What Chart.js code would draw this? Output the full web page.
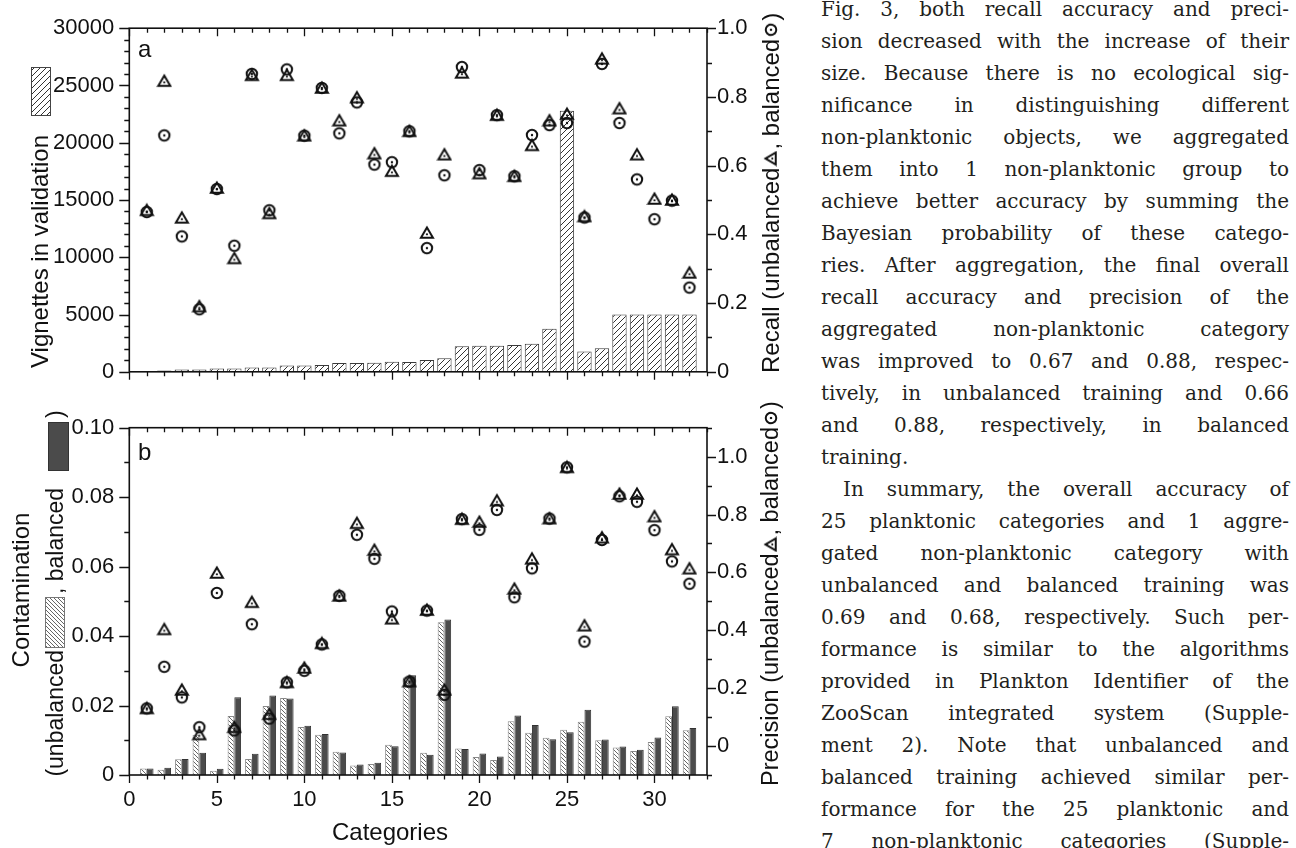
<!DOCTYPE html>
<html>
<head>
<meta charset="utf-8">
<script src="https://cdn.jsdelivr.net/npm/chart.js@4.4.0/dist/chart.umd.min.js"></script>
<style>
html, body { margin: 0; padding: 0; background: #fff; width: 1296px; height: 848px; overflow: hidden; position: relative; }
#ca { position: absolute; left: 0; top: 0; }
#cb { position: absolute; left: 0; top: 380px; }
#txt { position: absolute; left: 821px; top: -7px; width: 468px; font-family: "DejaVu Serif", serif; font-size: 20px; line-height: 32px; color: #231f20; }
#txt div { white-space: nowrap; text-align: justify; text-align-last: justify; }
#txt div.end { text-align-last: left; }
#txt div.ind { padding-left: 22px; }
</style>
</head>
<body>
<canvas id="ca" width="800" height="400"></canvas>
<canvas id="cb" width="800" height="468"></canvas>
<div id="txt">
<div>Fig. 3, both recall accuracy and preci-</div>
<div>sion decreased with the increase of their</div>
<div>size. Because there is no ecological sig-</div>
<div>nificance in distinguishing different</div>
<div>non-planktonic objects, we aggregated</div>
<div>them into 1 non-planktonic group to</div>
<div>achieve better accuracy by summing the</div>
<div>Bayesian probability of these catego-</div>
<div>ries. After aggregation, the final overall</div>
<div>recall accuracy and precision of the</div>
<div>aggregated non-planktonic category</div>
<div>was improved to 0.67 and 0.88, respec-</div>
<div>tively, in unbalanced training and 0.66</div>
<div>and 0.88, respectively, in balanced</div>
<div class="end">training.</div>
<div class="ind">In summary, the overall accuracy of</div>
<div>25 planktonic categories and 1 aggre-</div>
<div>gated non-planktonic category with</div>
<div>unbalanced and balanced training was</div>
<div>0.69 and 0.68, respectively. Such per-</div>
<div>formance is similar to the algorithms</div>
<div>provided in Plankton Identifier of the</div>
<div>ZooScan integrated system (Supple-</div>
<div>ment 2). Note that unbalanced and</div>
<div>balanced training achieved similar per-</div>
<div>formance for the 25 planktonic and</div>
<div>7 non-planktonic categories (Supple-</div>
</div>
<script>
// Fig. 3 a/b: vignettes, recall, contamination, precision per category
const categories = [1,2,3,4,5,6,7,8,9,10,11,12,13,14,15,16,17,18,19,20,21,22,23,24,25,26,27,28,29,30,31,32];
const vignettes = [80,110,200,200,285,285,370,370,540,540,600,770,770,800,880,850,1030,1190,2220,2280,2280,2340,2450,3750,22800,1770,2060,5000,5000,5000,5000,5000];
const recallUnbalanced = [0.47,0.846,0.448,0.19,0.535,0.33,0.863,0.461,0.863,0.687,0.826,0.731,0.798,0.635,0.584,0.70,0.404,0.632,0.870,0.577,0.747,0.569,0.659,0.731,0.75,0.452,0.911,0.766,0.632,0.503,0.50,0.288];
const recallBalanced = [0.465,0.688,0.394,0.182,0.532,0.367,0.867,0.47,0.88,0.687,0.826,0.694,0.784,0.603,0.61,0.70,0.36,0.572,0.887,0.587,0.747,0.569,0.689,0.718,0.724,0.449,0.896,0.724,0.56,0.444,0.498,0.245];
const contamUnbalanced = [0.0019,0.0015,0.0045,0.0116,0.0012,0.017,0.0046,0.0199,0.0222,0.0138,0.0116,0.0067,0.0027,0.0032,0.0087,0.0281,0.0064,0.044,0.0076,0.0052,0.0043,0.0155,0.0122,0.0107,0.013,0.0153,0.01,0.0079,0.0069,0.0095,0.0169,0.0129];
const contamBalanced = [0.0019,0.0021,0.0046,0.0064,0.0018,0.0224,0.0061,0.0229,0.022,0.0142,0.0118,0.0065,0.003,0.0035,0.0083,0.0287,0.0058,0.0448,0.0075,0.0062,0.0053,0.0171,0.0144,0.0103,0.0123,0.0188,0.0102,0.0082,0.0073,0.0108,0.0198,0.0135];
const precisionUnbalanced = [0.13,0.403,0.194,0.04,0.598,0.065,0.497,0.11,0.22,0.27,0.355,0.519,0.77,0.677,0.44,0.223,0.47,0.194,0.784,0.774,0.848,0.543,0.647,0.786,0.963,0.416,0.72,0.871,0.871,0.793,0.679,0.613];
const precisionBalanced = [0.13,0.274,0.168,0.065,0.529,0.054,0.421,0.095,0.22,0.26,0.351,0.519,0.73,0.647,0.465,0.223,0.468,0.177,0.784,0.747,0.816,0.514,0.614,0.786,0.963,0.361,0.712,0.863,0.844,0.746,0.638,0.561];
const xTicks = [0,5,10,15,20,25,30];
const vignetteTicks = [0,5000,10000,15000,20000,25000,30000];
const recallTicks = [0,0.2,0.4,0.6,0.8,1.0];
const contamTicks = [0,0.02,0.04,0.06,0.08,0.10];

const SANS = '"Liberation Sans", Arial, Helvetica, sans-serif';
const TICK_FONT = { family: SANS, size: 22 };
const TITLE_FONT = '24px ' + SANS;
const SMALL_TITLE = '23px ' + SANS;
const RIGHT_B_TITLE = '23.5px ' + SANS;
const INK = '#111';

function pts(values) {
    return categories.map((c, i) => ({ x: c, y: values[i] }));
}

function makeMarker(kind) {
    const c = document.createElement('canvas');
    c.width = 16; c.height = 16;
    const g = c.getContext('2d');
    g.strokeStyle = INK; g.fillStyle = INK; g.lineWidth = 2;
    if (kind === 'tri') {
        g.beginPath(); g.moveTo(8, 2.5); g.lineTo(14, 12.8); g.lineTo(2, 12.8); g.closePath(); g.stroke();
        g.beginPath(); g.arc(8, 9.3, 1.1, 0, Math.PI * 2); g.fill();
    } else {
        g.beginPath(); g.arc(8, 8, 5.2, 0, Math.PI * 2); g.stroke();
        g.beginPath(); g.arc(8, 8, 1.2, 0, Math.PI * 2); g.fill();
    }
    return c;
}
const triImg = makeMarker('tri');
const circImg = makeMarker('circ');

function hatch(ctx, dir, gap, color, lw) {
    const c = document.createElement('canvas');
    c.width = gap; c.height = gap;
    const g = c.getContext('2d');
    g.fillStyle = '#fff'; g.fillRect(0, 0, gap, gap);
    g.strokeStyle = color; g.lineWidth = lw;
    g.beginPath();
    if (dir === '/') {
        g.moveTo(0, gap); g.lineTo(gap, 0);
        g.moveTo(-1, 1); g.lineTo(1, -1);
        g.moveTo(gap - 1, gap + 1); g.lineTo(gap + 1, gap - 1);
    } else {
        g.moveTo(0, 0); g.lineTo(gap, gap);
        g.moveTo(gap - 1, -1); g.lineTo(gap + 1, 1);
        g.moveTo(-1, gap - 1); g.lineTo(1, gap + 1);
    }
    g.stroke();
    return ctx.createPattern(c, 'repeat');
}

// rotated (bottom-to-top) title made of text and marker pieces
function vtext(ctx, x, y, parts, font) {
    ctx.save();
    ctx.translate(x, y);
    ctx.rotate(-Math.PI / 2);
    ctx.font = font || TITLE_FONT; ctx.fillStyle = INK;
    ctx.textBaseline = 'middle'; ctx.textAlign = 'left';
    let p = 0;
    parts.forEach(s => {
        if (typeof s === 'string') {
            ctx.fillText(s, p, 0);
            p += ctx.measureText(s).width;
        } else {
            ctx.drawImage(s, p + 1, -s.height / 2 - 1);
            p += s.width + 2;
        }
    });
    ctx.restore();
}

function textWidth(ctx, s, font) {
    ctx.save(); ctx.font = font || TITLE_FONT;
    const w = ctx.measureText(s).width;
    ctx.restore();
    return w;
}

function range(from, to, step) {
    const out = [];
    for (let v = from; v <= to + step / 2; v += step) out.push(+v.toFixed(6));
    return out;
}

function axesPlugin(cfg) {
    return {
        id: 'axes',
        afterDraw(chart) {
            const ctx = chart.ctx, a = chart.chartArea;
            const sx = chart.scales.x, sl = chart.scales.y, sr = chart.scales.y2;
            ctx.save();
            ctx.strokeStyle = INK;
            ctx.lineWidth = 1.6;
            ctx.strokeRect(a.left, a.top, a.right - a.left, a.bottom - a.top);
            ctx.lineWidth = 1.3;
            ctx.beginPath();
            for (let v = 0; v <= 33; v++) {
                const px = Math.round(sx.getPixelForValue(v)) + 0.5;
                const len = v % 5 === 0 ? 8 : 4.5;
                ctx.moveTo(px, a.bottom); ctx.lineTo(px, a.bottom + len);
                ctx.moveTo(px, a.top); ctx.lineTo(px, a.top + len);
            }
            cfg.leftMinor.forEach(v => {
                const py = Math.round(sl.getPixelForValue(v)) + 0.5;
                ctx.moveTo(a.left, py); ctx.lineTo(a.left - (cfg.leftMajor(v) ? 10 : 5), py);
            });
            cfg.rightMinor.forEach(v => {
                const py = Math.round(sr.getPixelForValue(v)) + 0.5;
                ctx.moveTo(a.right, py); ctx.lineTo(a.right + (cfg.rightMajor(v) ? 9 : 5), py);
            });
            ctx.stroke();
            cfg.titles(ctx, chart);
            ctx.restore();
        }
    };
}

function isMult(v, step) {
    return Math.abs(v / step - Math.round(v / step)) < 1e-6;
}

function baseScales(opt) {
    return {
        x: {
            type: 'linear', min: 0, max: 33, offset: false,
            grid: { display: false, drawTicks: false }, border: { display: false },
            afterBuildTicks: s => { s.ticks = xTicks.map(v => ({ value: v })); },
            afterFit: s => { s.height = opt.xHeight; },
            ticks: { display: opt.xLabels, font: TICK_FONT, color: INK, padding: 12, maxRotation: 0, autoSkip: false, callback: v => String(v) }
        },
        y: {
            type: 'linear', position: 'left', min: opt.yMin, max: opt.yMax,
            grid: { display: false, drawTicks: false }, border: { display: false },
            afterBuildTicks: s => { s.ticks = opt.yTicks.map(v => ({ value: v })); },
            afterFit: s => { s.width = 129.3; },
            ticks: { font: TICK_FONT, color: INK, padding: 15, callback: opt.yFmt }
        },
        y2: {
            type: 'linear', position: 'right', min: opt.y2Min, max: opt.y2Max,
            grid: { display: false, drawTicks: false }, border: { display: false },
            afterBuildTicks: s => { s.ticks = recallTicks.map(v => ({ value: v })); },
            afterFit: s => { s.width = 93; },
            ticks: { font: TICK_FONT, color: INK, padding: 10, callback: v => v === 0 ? '0' : v.toFixed(1) }
        }
    };
}

function markerSet(tri, circ) {
    return [{
        type: 'scatter', data: pts(circ), yAxisID: 'y2', order: 1,
        pointStyle: circImg, pointRadius: 6, pointHoverRadius: 6
    }, {
        type: 'scatter', data: pts(tri), yAxisID: 'y2', order: 2,
        pointStyle: triImg, pointRadius: 6, pointHoverRadius: 6
    }];
}

const commonOpts = {
    responsive: false, animation: false, devicePixelRatio: 1,
    events: [],
    plugins: { legend: { display: false }, tooltip: { enabled: false } }
};

// ---- panel a ----
const ctxA = document.getElementById('ca').getContext('2d');
const hatchA = hatch(ctxA, '/', 6, '#333', 1);

new Chart(ctxA, {
    type: 'bar',
    data: {
        datasets: [
            ...markerSet(recallUnbalanced, recallBalanced),
            {
                type: 'bar', data: pts(vignettes), yAxisID: 'y', order: 3,
                backgroundColor: hatchA, borderColor: '#3a3a3a', borderWidth: 1,
                categoryPercentage: 0.82, barPercentage: 1.0
            }
        ]
    },
    options: {
        ...commonOpts,
        layout: { padding: { top: 25, left: 0, right: 0, bottom: 0 } },
        scales: baseScales({
            xHeight: 27.7, xLabels: false,
            yMin: 0, yMax: 30000, yTicks: vignetteTicks, yFmt: v => String(v),
            y2Min: 0, y2Max: 1
        })
    },
    plugins: [axesPlugin({
        leftMinor: range(0, 30000, 1000), leftMajor: v => isMult(v, 5000),
        rightMinor: range(0, 1, 0.1), rightMajor: v => isMult(v, 0.2),
        titles(ctx) {
            ctx.fillStyle = hatchA;
            ctx.fillRect(31, 67, 19, 48);
            ctx.strokeStyle = '#444'; ctx.lineWidth = 1;
            ctx.strokeRect(31.5, 67.5, 19, 48);
            vtext(ctx, 41, 368, ['Vignettes in validation']);
            vtext(ctx, 772, 373, ['Recall (unbalanced', triImg, ', balanced', circImg, ')']);
            ctx.font = '24px ' + SANS; ctx.fillStyle = INK;
            ctx.textBaseline = 'middle'; ctx.textAlign = 'left';
            ctx.fillText('a', 138, 50);
        }
    })]
});

// ---- panel b (canvas starts at page y 380) ----
const ctxB = document.getElementById('cb').getContext('2d');
const hatchB = hatch(ctxB, '\\', 4, '#555', 0.9);

new Chart(ctxB, {
    type: 'bar',
    data: {
        datasets: [
            ...markerSet(precisionUnbalanced, precisionBalanced),
            {
                type: 'bar', data: pts(contamUnbalanced), yAxisID: 'y', order: 3,
                backgroundColor: hatchB, borderColor: '#8a8a8a', borderWidth: 1,
                categoryPercentage: 0.77, barPercentage: 1.0
            },
            {
                type: 'bar', data: pts(contamBalanced), yAxisID: 'y', order: 3,
                backgroundColor: '#4b4b4b', borderColor: '#333', borderWidth: 1,
                categoryPercentage: 0.77, barPercentage: 1.0
            }
        ]
    },
    options: {
        ...commonOpts,
        layout: { padding: { top: 47.7, left: 0, right: 0, bottom: 0 } },
        scales: baseScales({
            xHeight: 73, xLabels: true,
            yMin: 0, yMax: 0.1, yTicks: contamTicks, yFmt: v => v === 0 ? '0' : v.toFixed(2),
            y2Min: -0.1, y2Max: 1.1
        })
    },
    plugins: [axesPlugin({
        leftMinor: range(0, 0.1, 0.01), leftMajor: v => isMult(v, 0.02),
        rightMinor: range(-0.1, 1.1, 0.1), rightMajor: v => v > -0.05 && v < 1.05 && isMult(v, 0.2),
        titles(ctx) {
            const wc = textWidth(ctx, 'Contamination');
            vtext(ctx, 22, 210 + wc / 2, ['Contamination']);
            const wu = textWidth(ctx, '(unbalanced', SMALL_TITLE);
            vtext(ctx, 57, 270 + wu, ['(unbalanced'], SMALL_TITLE);
            ctx.fillStyle = hatchB;
            ctx.fillRect(45, 217, 19, 50);
            ctx.strokeStyle = '#777'; ctx.lineWidth = 1;
            ctx.strokeRect(45.5, 217.5, 19, 50);
            vtext(ctx, 57, 214, [', balanced'], SMALL_TITLE);
            ctx.fillStyle = '#4b4b4b';
            ctx.fillRect(48, 42, 20, 48);
            ctx.strokeStyle = '#333';
            ctx.strokeRect(48.5, 42.5, 20, 48);
            vtext(ctx, 57, 38, [')'], SMALL_TITLE);
            vtext(ctx, 772, 406, ['Precision (unbalanced', triImg, ', balanced', circImg, ')'], RIGHT_B_TITLE);
            ctx.font = '24px ' + SANS; ctx.fillStyle = INK;
            ctx.textBaseline = 'middle'; ctx.textAlign = 'center';
            ctx.fillText('Categories', 390, 453);
            ctx.textAlign = 'left';
            ctx.fillText('b', 138, 73);
        }
    })]
});
</script>
</body>
</html>
